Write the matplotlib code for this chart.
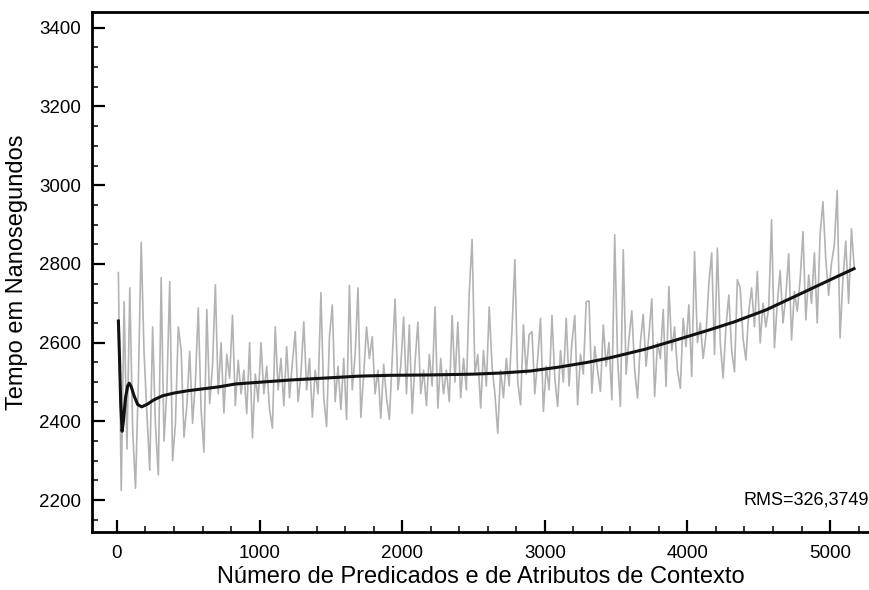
import numpy as np
import matplotlib
matplotlib.use("Agg")
import matplotlib.pyplot as plt
from matplotlib.ticker import MultipleLocator

plt.rcParams['font.family'] = ['Liberation Sans', 'DejaVu Sans']

# measured times, one sample every 20 predicates/attributes (x = 10 .. 5170)
x_vals = np.arange(10, 5171, 20)
tempo = [
    2778, 2225, 2704, 2330, 2739, 2380, 2230, 2500, 2855, 2574,
    2420, 2276, 2640, 2390, 2264, 2765, 2350, 2480, 2755, 2300,
    2395, 2640, 2582, 2360, 2440, 2578, 2395, 2500, 2688, 2430,
    2322, 2684, 2445, 2540, 2747, 2470, 2600, 2421, 2570, 2510,
    2670, 2440, 2555, 2470, 2530, 2420, 2600, 2358, 2520, 2450,
    2600, 2470, 2540, 2430, 2383, 2640, 2480, 2560, 2440, 2590,
    2460, 2550, 2628, 2450, 2520, 2653, 2480, 2560, 2411, 2530,
    2470, 2727, 2460, 2387, 2615, 2696, 2450, 2540, 2430, 2560,
    2405, 2745, 2480, 2570, 2739, 2410, 2520, 2640, 2560, 2615,
    2470, 2530, 2408, 2545, 2460, 2405, 2560, 2711, 2480, 2540,
    2665, 2470, 2645, 2420, 2550, 2652, 2470, 2530, 2440, 2570,
    2490, 2691, 2434, 2560, 2470, 2530, 2450, 2669, 2500, 2652,
    2460, 2560, 2480, 2729, 2862, 2520, 2570, 2434, 2580, 2490,
    2691, 2540, 2470, 2370, 2530, 2460, 2560, 2490, 2635, 2811,
    2500, 2442, 2645, 2520, 2620, 2628, 2470, 2560, 2662, 2425,
    2540, 2480, 2669, 2510, 2438, 2580, 2500, 2662, 2490, 2600,
    2669, 2442, 2570, 2520, 2704, 2706, 2472, 2590, 2530, 2476,
    2645, 2540, 2600, 2455, 2874, 2560, 2438, 2836, 2520, 2610,
    2681, 2530, 2459, 2600, 2672, 2540, 2620, 2711, 2463, 2600,
    2560, 2684, 2489, 2743, 2580, 2640, 2530, 2484, 2662, 2590,
    2696, 2514, 2831, 2600, 2650, 2560, 2620, 2750, 2828, 2570,
    2840, 2600, 2510, 2640, 2721, 2580, 2526, 2760, 2739, 2610,
    2556, 2680, 2739, 2640, 2781, 2599, 2700, 2640, 2690, 2912,
    2587, 2700, 2783, 2650, 2720, 2826, 2607, 2730, 2680, 2760,
    2882, 2658, 2772, 2700, 2828, 2650, 2874, 2958, 2811, 2720,
    2802, 2849, 2986, 2612, 2760, 2858, 2700, 2889, 2788,
]

# fitted curve
fit_x = [10, 18, 26, 36, 45, 60, 75, 86, 100, 120, 145, 173, 210, 260, 320,
         400, 500, 720, 830, 1210, 1700, 1910, 2200, 2500, 2700, 2900, 3100,
         3300, 3450, 3700, 3950, 4150, 4330, 4550, 4780, 5020, 5168]
fit_y = [2655, 2560, 2450, 2375, 2400, 2460, 2490, 2497, 2488, 2465, 2443,
         2437, 2443, 2455, 2465, 2472, 2478, 2488, 2495, 2505, 2515, 2517,
         2518, 2520, 2523, 2528, 2538, 2550, 2561, 2583, 2610, 2632, 2653,
         2683, 2722, 2763, 2788]

fig = plt.figure(figsize=(8.7, 5.9), dpi=100)
ax = fig.add_axes([92 / 870, 58 / 590, 778 / 870, 520 / 590])

ax.plot(x_vals, tempo, color='#b3b3b3', lw=1.2)
ax.plot(fit_x, fit_y, color='#111111', lw=2.2)

ax.set_xlim(-175, 5280)
ax.set_ylim(2119, 3440)
ax.xaxis.set_major_locator(MultipleLocator(1000))
ax.xaxis.set_minor_locator(MultipleLocator(200))
ax.yaxis.set_major_locator(MultipleLocator(200))
ax.yaxis.set_minor_locator(MultipleLocator(50))
ax.tick_params(which='both', direction='in', labelsize=13.5)
ax.tick_params(which='major', length=9, width=1.6)
ax.tick_params(which='minor', length=4.5, width=1.1)
ax.tick_params(axis='x', pad=9)
ax.tick_params(axis='y', pad=8)

ax.spines['right'].set_visible(False)
for s in ['left', 'bottom', 'top']:
    ax.spines[s].set_linewidth(2)

ax.set_xlabel("Número de Predicados e de Atributos de Contexto", fontsize=17, labelpad=3)
ax.set_ylabel("Tempo em Nanosegundos", fontsize=17, labelpad=8)
ax.text(5272, 2200, "RMS=326,3749", ha='right', va='center', fontsize=13)

fig.savefig("out.png", dpi=100)
